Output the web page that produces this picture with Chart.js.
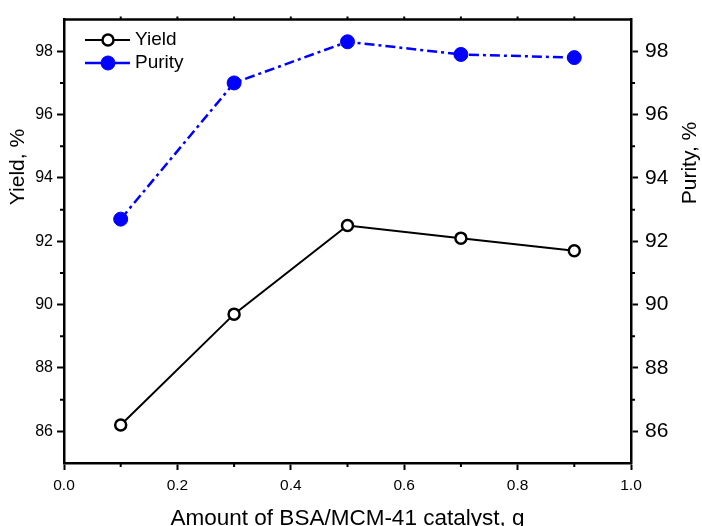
<!DOCTYPE html>
<html>
<head>
<meta charset="utf-8">
<script src="https://cdn.jsdelivr.net/npm/chart.js@4.4.1/dist/chart.umd.min.js"></script>
<style>
  body { margin: 0; background: #fff; }
  #grafico { display: block; }
</style>
</head>
<body>
<canvas id="grafico" width="702" height="526"></canvas>
<script>
// dados
const quantidades = [0.1, 0.3, 0.5, 0.7, 0.9];
const rendimento = [86.2, 89.7, 92.5, 92.1, 91.7];
const pureza = [92.7, 97.0, 98.3, 97.9, 97.8];

const rotulosX = ['0.0', '0.2', '0.4', '0.6', '0.8', '1.0'];
const rotulosY = [86, 88, 90, 92, 94, 96, 98];

const legendaNomes = ['Yield', 'Purity'];
const tituloX = 'Amount of BSA/MCM-41 catalyst, g';
const tituloY = 'Yield, %';
const tituloY2 = 'Purity, %';

const fonte = "'Liberation Sans', Arial, sans-serif";
Chart.defaults.font.family = fonte;
Chart.defaults.color = '#000';

function pontos(valores) {
    return quantidades.map((q, i) => ({ x: q, y: valores[i] }));
}

function rotuloY(v) {
    return rotulosY.includes(v) ? String(v) : '';
}

function corTick(ctx) {
    return rotulosY.includes(ctx.tick.value) ? '#000' : 'rgba(0,0,0,0)';
}

// ticks menores, moldura de cima, legenda e títulos
const extras = {
    id: 'extras',
    afterDraw(chart) {
        const ctx = chart.ctx;
        const area = chart.chartArea;
        const sx = chart.scales.x, sy = chart.scales.y, sy2 = chart.scales.y2;
        ctx.save();
        ctx.strokeStyle = '#000';
        ctx.lineWidth = 2;

        // moldura de cima
        ctx.beginPath();
        ctx.lineWidth = 2.5;
        ctx.moveTo(area.left - 1, area.top);
        ctx.lineTo(area.right + 1, area.top);
        ctx.stroke();
        ctx.lineWidth = 2;

        ctx.beginPath();
        sx.ticks.forEach((t, i) => {
            const px = sx.getPixelForValue(t.value);
            if (i % 2 === 1) {
                ctx.moveTo(px, area.bottom);
                ctx.lineTo(px, area.bottom + 4);
            }
            if (i > 0 && i < sx.ticks.length - 1) {
                ctx.moveTo(px, area.top);
                ctx.lineTo(px, area.top - 3);
            }
        });
        sy.ticks.forEach(t => {
            if (!rotulosY.includes(t.value) && t.value > sy.min && t.value < sy.max) {
                const py = sy.getPixelForValue(t.value);
                ctx.moveTo(area.left, py);
                ctx.lineTo(area.left - 4, py);
            }
        });
        sy2.ticks.forEach(t => {
            if (!rotulosY.includes(t.value) && t.value > sy2.min && t.value < sy2.max) {
                const py = sy2.getPixelForValue(t.value);
                ctx.moveTo(area.right, py);
                ctx.lineTo(area.right + 4, py);
            }
        });
        ctx.stroke();

        // legenda
        ctx.font = '19px ' + fonte;
        ctx.textBaseline = 'middle';
        ctx.textAlign = 'left';
        chart.data.datasets.forEach((ds, i) => {
            const y = 40 + i * 23;
            ctx.beginPath();
            ctx.strokeStyle = ds.borderColor;
            ctx.lineWidth = ds.borderWidth;
            ctx.setLineDash([]);
            ctx.moveTo(85, y);
            ctx.lineTo(130, y);
            ctx.stroke();
            ctx.beginPath();
            ctx.arc(108, y, ds.pointRadius, 0, Math.PI * 2);
            ctx.fillStyle = ds.pointBackgroundColor;
            ctx.fill();
            ctx.lineWidth = ds.pointBorderWidth;
            ctx.strokeStyle = ds.pointBorderColor;
            ctx.stroke();
            ctx.fillStyle = '#000';
            ctx.fillText(legendaNomes[i], 135, y);
        });

        // títulos dos eixos
        ctx.fillStyle = '#000';
        ctx.textAlign = 'center';
        ctx.textBaseline = 'alphabetic';
        ctx.font = '22.5px ' + fonte;
        ctx.fillText(tituloX, (area.left + area.right) / 2, 525);

        ctx.font = '21px ' + fonte;
        ctx.textBaseline = 'middle';
        ctx.save();
        ctx.translate(18.5, 167);
        ctx.rotate(-Math.PI / 2);
        ctx.fillText(tituloY, 0, 0);
        ctx.restore();
        ctx.save();
        ctx.translate(690, 163);
        ctx.rotate(-Math.PI / 2);
        ctx.fillText(tituloY2, 0, 0);
        ctx.restore();
        ctx.restore();
    }
};

const config = {
    type: 'line',
    data: {
        datasets: [{
            label: legendaNomes[0],
            data: pontos(rendimento),
            borderColor: '#000',
            borderWidth: 2,
            pointRadius: 5.5,
            pointBorderWidth: 2.5,
            pointBackgroundColor: '#fff',
            pointBorderColor: '#000',
            tension: 0,
            yAxisID: 'y'
        }, {
            label: legendaNomes[1],
            data: pontos(pureza),
            borderColor: '#0000ff',
            borderWidth: 2.5,
            borderDash: [10, 4, 3, 4],
            pointRadius: 7,
            pointBorderWidth: 1,
            pointBackgroundColor: '#0000ff',
            pointBorderColor: '#0000ff',
            tension: 0,
            yAxisID: 'y2'
        }]
    },
    options: {
        responsive: false,
        animation: false,
        devicePixelRatio: 1,
        layout: { padding: { top: 14, left: 0, right: 0, bottom: 0 } },
        plugins: { legend: { display: false }, tooltip: { enabled: false } },
        scales: {
            x: {
                type: 'linear',
                min: 0,
                max: 1,
                afterFit: s => { s.height = 63; },
                ticks: {
                    stepSize: 0.1,
                    autoSkip: false,
                    maxRotation: 0,
                    padding: 6,
                    font: { size: 15.5 },
                    callback: (v, i) => (i % 2 === 0 ? rotulosX[i / 2] : '')
                },
                grid: {
                    drawOnChartArea: false,
                    tickLength: 7,
                    tickWidth: 2,
                    tickColor: c => (c.index % 2 === 0 ? '#000' : 'rgba(0,0,0,0)')
                },
                border: { display: true, color: '#000', width: 2.5 }
            },
            y: {
                position: 'left',
                min: 85,
                max: 99,
                afterFit: s => { s.width = 64; },
                ticks: { stepSize: 1, autoSkip: false, padding: 4, font: { size: 16 }, callback: rotuloY },
                grid: { drawOnChartArea: false, tickLength: 7, tickWidth: 2, tickColor: corTick },
                border: { display: true, color: '#000', width: 2.5 }
            },
            y2: {
                position: 'right',
                min: 85,
                max: 99,
                afterFit: s => { s.width = 71; },
                ticks: { stepSize: 1, autoSkip: false, padding: 7, font: { size: 21 }, callback: rotuloY },
                grid: { drawOnChartArea: false, tickLength: 7, tickWidth: 2, tickColor: corTick },
                border: { display: true, color: '#000', width: 2.5 }
            }
        }
    },
    plugins: [extras]
};

new Chart(document.getElementById('grafico').getContext('2d'), config);
</script>
</body>
</html>
